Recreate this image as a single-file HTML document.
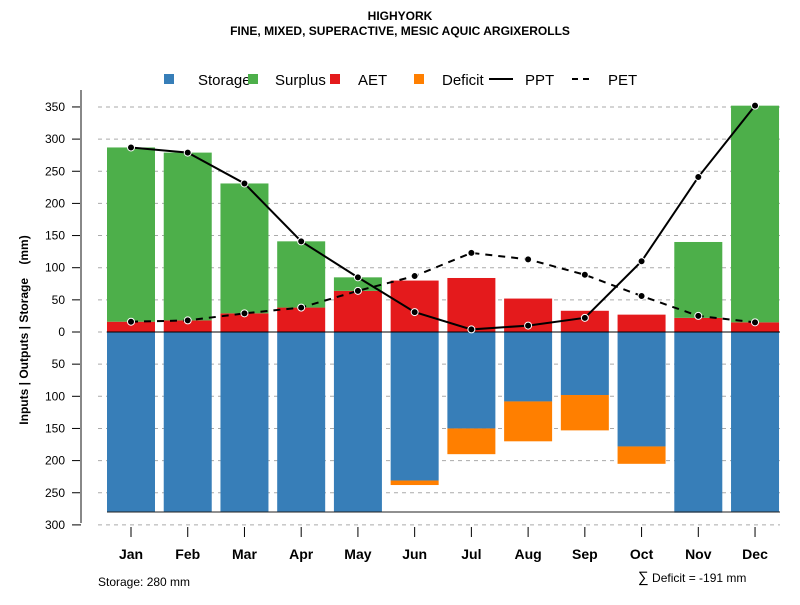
<!DOCTYPE html>
<html><head><meta charset="utf-8"><style>
body{margin:0;background:#fff}
svg text{font-family:"Liberation Sans",sans-serif}
</style></head><body>
<svg id="c" width="800" height="600" xmlns="http://www.w3.org/2000/svg">
<text x="400" y="20" text-anchor="middle" font-size="12" font-weight="bold">HIGHYORK</text>
<text x="400" y="35" text-anchor="middle" font-size="12" font-weight="bold">FINE, MIXED, SUPERACTIVE, MESIC AQUIC ARGIXEROLLS</text>
<g font-size="15">
<rect x="164" y="74" width="10" height="10" fill="#377eb8"/>
<text x="198" y="85">Storage</text>
<rect x="248" y="74" width="10" height="10" fill="#4daf4a"/>
<text x="275" y="85">Surplus</text>
<rect x="330" y="74" width="10" height="10" fill="#e41a1c"/>
<text x="358" y="85">AET</text>
<rect x="414" y="74" width="10" height="10" fill="#ff7f00"/>
<text x="442" y="85">Deficit</text>
<line x1="489" y1="79" x2="513" y2="79" stroke="#000" stroke-width="2"/>
<text x="525" y="85">PPT</text>
<line x1="572" y1="79" x2="594" y2="79" stroke="#000" stroke-width="2" stroke-dasharray="6,5"/>
<text x="608" y="85">PET</text>
</g>
<g id="grid"></g><g id="bars"></g><g id="lines"></g><g id="axes"></g>
<text x="28" y="330" transform="rotate(-90 28 330)" text-anchor="middle" font-size="12" font-weight="bold">Inputs | Outputs | Storage&#160;&#160;&#160;&#160;(mm)</text>
<text x="98" y="586" font-size="12">Storage: 280 mm</text>
<text x="638" y="582" font-size="12"><tspan font-size="15">∑</tspan> Deficit = -191 mm</text>
</svg>
<script>
const months=["Jan","Feb","Mar","Apr","May","Jun","Jul","Aug","Sep","Oct","Nov","Dec"];
const ppt=[287,279,231,141,85,31,4,10,22,110,241,352];
const pet=[16,18,29,38,64,87,123,113,89,56,25,15];
const aet=[16,18,29,38,64,80,84,52,33,27,22,15];
const surplus=[271,261,202,103,21,0,0,0,0,0,118,337];
const storage=[280,280,280,280,280,231,150,108,98,178,281,280];
const deficit=[0,0,0,0,0,7,40,62,55,27,0,0];
const yTicks=[350,300,250,200,150,100,50,0,-50,-100,-150,-200,-250,-300];
const NS="http://www.w3.org/2000/svg";
const y=v=>332-v*0.643;
const x=i=>131+i*56.73;
const bw=48;
function mk(tag,attrs,parent){const e=document.createElementNS(NS,tag);for(const k in attrs)e.setAttribute(k,attrs[k]);document.getElementById(parent).appendChild(e);return e;}
yTicks.forEach(t=>{
 const g=mk("line",{x1:98,x2:780,y1:y(t),y2:y(t),stroke:"#aaa","stroke-dasharray":"4,4"},"grid");
 
 
 const tk=mk("line",{x1:72,x2:81,y1:y(t),y2:y(t),stroke:"#000"},"axes");
 
 
 const tx=mk("text",{x:65,y:y(t)+4,"text-anchor":"end","font-size":12},"axes");
 tx.textContent=Math.abs(t);
 
 
});
const ax=mk("line",{x1:81,x2:81,y1:90,y2:523,stroke:"#888","stroke-width":2},"axes");


months.forEach((m,i)=>{
 const cx=x(i);
 const s=mk("rect",{x:cx-bw/2,y:y(0),width:bw,height:y(-storage[i])-y(0),fill:"#377eb8"},"bars");
 
 
 if(deficit[i]>0){
  const d=mk("rect",{x:cx-bw/2,y:y(-storage[i]),width:bw,height:y(-storage[i]-deficit[i])-y(-storage[i]),fill:"#ff7f00"},"bars");
  
  
 }
 const a=mk("rect",{x:cx-bw/2,y:y(aet[i]),width:bw,height:y(0)-y(aet[i]),fill:"#e41a1c"},"bars");
 
 
 if(surplus[i]>0){
  const su=mk("rect",{x:cx-bw/2,y:y(aet[i]+surplus[i]),width:bw,height:y(aet[i])-y(aet[i]+surplus[i]),fill:"#4daf4a"},"bars");
  
  
 }
 const tk=mk("line",{x1:cx,x2:cx,y1:527,y2:537,stroke:"#000"},"axes");
 
 
 const tx=mk("text",{x:cx,y:559,"text-anchor":"middle","font-size":14,"font-weight":"bold"},"axes");
 tx.textContent=m;
 
 
});
const z=mk("line",{x1:107,x2:780,y1:y(0),y2:y(0),stroke:"#000"},"lines");


const b=mk("line",{x1:107,x2:780,y1:y(-280),y2:y(-280),stroke:"#222"},"lines");


[[ppt,"","ppt"],[pet,"7,6","pet"]].forEach(([arr,dash,nm])=>{
 const p=mk("polyline",{points:arr.map((v,i)=>x(i)+","+y(v)).join(" "),fill:"none",stroke:"#000","stroke-width":2,"stroke-dasharray":dash},"lines");
 
 
 arr.forEach((v,i)=>{
  const c=mk("circle",{cx:x(i),cy:y(v),r:3.5,fill:"#000",stroke:"#fff","stroke-width":1},"lines");
  
  
 });
});
</script>
</body></html>
